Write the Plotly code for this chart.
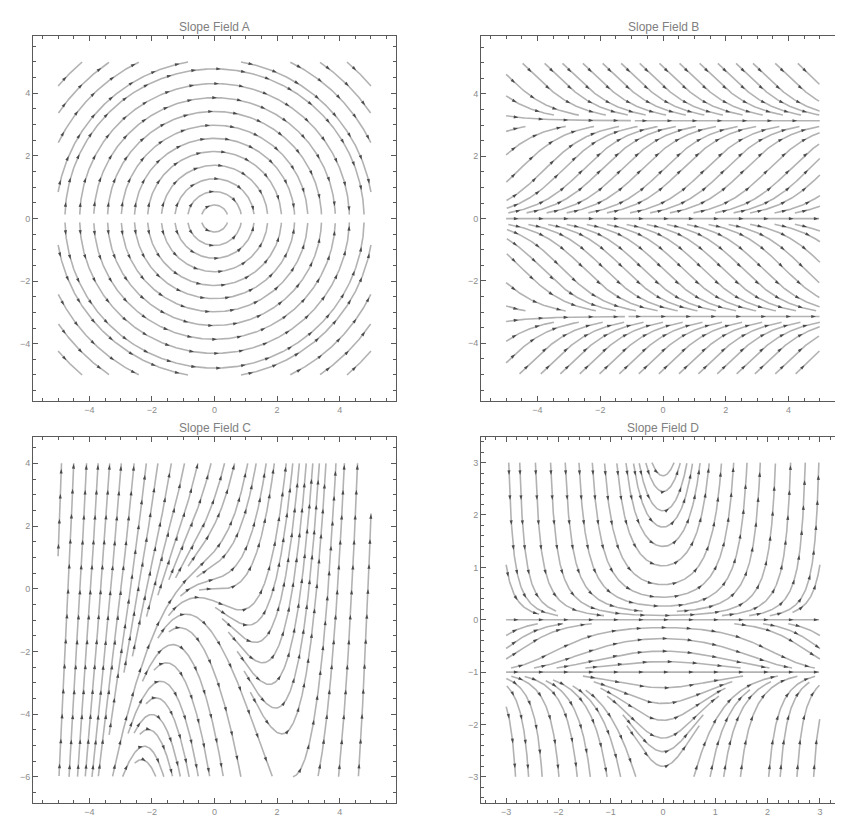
import math
import plotly.graph_objects as go

W, H = 843, 824

# ---------------- frame / axis data ----------------
TITLES = ["Slope Field A", "Slope Field B", "Slope Field C", "Slope Field D"]
X_RANGES = [(-5.8, 5.8), (-5.8, 5.8), (-5.8, 5.8), (-3.48, 3.48)]
Y_RANGES = [(-5.83, 5.83), (-5.85, 5.86), (-6.83, 4.84), (-3.5, 3.49)]
BOX_X = [(-5, 5), (-5, 5), (-5, 5), (-3, 3)]
BOX_Y = [(-5, 5), (-5, 5), (-6, 4), (-3, 3)]
X_DOMAINS = [(0.0297, 0.4603), (0.5611, 0.9929), (0.0297, 0.4603), (0.5611, 0.9929)]
Y_DOMAINS = [(0.5231, 0.9660), (0.5231, 0.9660), (0.0352, 0.4794), (0.0352, 0.4794)]
MAJOR_DTICK = [2, 2, 2, 1]
MINOR_DTICK = [0.5, 0.5, 0.5, 0.2]

# ---------------- slope fields (dy/dx) ----------------
def f_A(x, y):
    if abs(y) < 1e-9:
        y = 1e-9
    return -x / y

def f_B(x, y):
    return math.sin(y)

def f_C(x, y):
    return x * x + y

def f_D(x, y):
    return x * y * (y + 1.0)

# ---------------- streamline seeds ----------------
# A: radii of the circular streamlines
A_radii = [0.43, 0.86, 1.27, 1.70, 2.14, 2.56, 2.98, 3.42, 3.86, 4.31, 4.78,
           5.07, 5.55, 6.02, 6.55]
A_break_levels = [0.0]

# B: equilibrium lines (level, start x) and curve crossings
B_eq_y = [0.0, 3.1416, -3.1416]
B_eq_x0 = [-5.0, -0.9, -1.1]
B_mid_up_x = [-4.58, -3.78, -3.19, -2.55, -1.97, -1.33, -0.69, 0.0, 0.59, 1.33,
              1.97, 2.6, 3.35, 4.04, 4.63]            # crossing y = 1.571
B_top_up_x = [-4.2, -3.5, -2.93, -2.28, -1.65, -1.06, -0.47, 0.16, 0.8, 1.44,
              2.02, 2.6, 3.14, 3.85, 4.57]            # crossing y = 4.712
B_mid_dn_x = [-4.52, -3.88, -3.24, -2.55, -1.91, -1.28, -0.69, -0.05, 0.59, 1.22,
              1.86, 2.5, 3.14, 3.83, 4.47]            # crossing y = -1.571
B_bot_dn_x = [-4.3, -3.62, -3.0, -2.38, -1.75, -1.12, -0.5, 0.14, 0.78, 1.4,
              2.0, 2.62, 3.2, 3.85, 4.5]              # crossing y = -4.712
B_left_y = [4.63, 3.94, 3.3, 2.8, 2.05, -2.05, -2.8, -3.3, -3.94, -4.63]
B_right_y = [4.85, 1.4, 0.74, 0.4, -0.4, -0.74, -1.4, -4.85]
B_break_levels = [0.0, 3.1416, -3.1416]

# C: crossings of the top edge (y = 4), crests of the arches, right edge
C_top_x = [-4.89, -4.5, -4.09, -3.72, -3.35, -2.98, -2.57, -2.18, -1.81, -1.38,
           -0.96, -0.53, -0.11, 0.32, 0.64, 1.06, 1.33, 1.65, 1.91, 2.07,
           2.29, 2.5, 2.71, 2.93, 3.14, 3.35, 3.56, 3.88, 4.15, 4.57]
C_arch_x = [-0.9, -1.11, -1.33, -1.54, -1.72, -1.87, -2.0, -2.12, -2.24, -2.33]
C_arch_y = [-0.81, -1.24, -1.78, -2.36, -2.95, -3.48, -4.01, -4.49, -5.02, -5.45]
C_right_y = [2.4]

# D: equilibrium lines, vertex heights at x = 0, edge crossings
D_eq_y = [0.0, -1.0]
D_eq_x0 = [-3.0, -3.0]
D_up_vertex_y = [2.75, 2.45, 2.08, 1.77, 1.40, 1.03, 0.67, 0.43, 0.26]
D_mid_vertex_y = [-0.15, -0.36, -0.6, -0.8]
D_low_vertex_y = [-1.3, -1.6, -1.92, -2.26, -2.52, -2.8]
D_top_x = [-2.95, -2.74, -2.44, -2.15, -1.87, 1.86, 2.15, 2.44, 2.72, 2.98]
D_side_y = [1.05, -0.3, -0.55, -0.75]
D_bot_x = [-2.82, -2.57, -2.31, -1.99, -1.64, -1.39, -1.07, -0.81, -0.52,
           0.59, 0.9, 1.16, 1.48, 2.02, 2.24, 2.56, 2.88]

# ---------------- seed lists ----------------
seeds_A = []
for r in A_radii:
    if r <= 5:
        seeds_A += [(0.0, r, 'both'), (0.0, -r, 'both')]
    else:
        c = r * math.sqrt(0.5)
        seeds_A += [(-c, c, 'both'), (c, c, 'both'), (-c, -c, 'both'), (c, -c, 'both')]

seeds_B = [(x0, yv, 'fwd') for yv, x0 in zip(B_eq_y, B_eq_x0)]
seeds_B += [(x, 1.5708, 'both') for x in B_mid_up_x]
seeds_B += [(x, -1.5708, 'both') for x in B_mid_dn_x]
seeds_B += [(x, 4.7124, 'both') for x in B_top_up_x]
seeds_B += [(x, -4.7124, 'both') for x in B_bot_dn_x]
seeds_B += [(-5.0, yv, 'both') for yv in B_left_y]
seeds_B += [(5.0, yv, 'both') for yv in B_right_y]

seeds_C = [(x, 4.0, 'both') for x in C_top_x]
seeds_C += [(x, yv, 'both') for x, yv in zip(C_arch_x, C_arch_y)]
seeds_C += [(5.0, yv, 'both') for yv in C_right_y]

seeds_D = [(x0, yv, 'fwd') for yv, x0 in zip(D_eq_y, D_eq_x0)]
seeds_D += [(0.0, yv, 'both') for yv in D_up_vertex_y]
seeds_D += [(0.0, yv, 'both') for yv in D_mid_vertex_y]
seeds_D += [(0.0, yv, 'both') for yv in D_low_vertex_y]
seeds_D += [(x, 3.0, 'both') for x in D_top_x]
seeds_D += [(-3.0, yv, 'both') for yv in D_side_y] + [(3.0, yv, 'both') for yv in D_side_y]
seeds_D += [(x, -3.0, 'both') for x in D_bot_x]

PANEL_FIELDS = [f_A, f_B, f_C, f_D]
PANEL_SEEDS = [seeds_A, seeds_B, seeds_C, seeds_D]
PANEL_CUTS = [(A_break_levels, 0.12), (B_break_levels, 0.18), ([], 0.0), ([], 0.0)]
PANEL_DTEST = [4.0, 3.5, 5.5, 4.0]

LINE_COLOR = '#b2b2b2'
ARROW_COLOR = '#4a4a4a'
AXIS_COLOR = '#5a5a5a'
TEXT_COLOR = '#8c8c8c'
ARROW_SPACING = 25.0


def build_panel(f, seeds, box_x, box_y, sx, sy, d_test, cut_levels, cut,
                step=1.0, min_len=8.0, maxsteps=3000):
    grid = {}
    cell = d_test
    curves = []

    def to_px(x, y):
        return (x - box_x[0]) * sx, (y - box_y[0]) * sy

    def close(x, y):
        X, Y = to_px(x, y)
        cx, cy = int(X // cell), int(Y // cell)
        d2 = d_test * d_test
        for i in (cx - 1, cx, cx + 1):
            for j in (cy - 1, cy, cy + 1):
                for (PX, PY) in grid.get((i, j), ()):
                    if (PX - X) ** 2 + (PY - Y) ** 2 < d2:
                        return True
        return False

    def vel(x, y):
        s = f(x, y)
        n = math.hypot(sx, s * sy)
        return 1.0 / n, s / n

    def inside(x, y):
        return (box_x[0] - 1e-9 <= x <= box_x[1] + 1e-9 and
                box_y[0] - 1e-9 <= y <= box_y[1] + 1e-9)

    def run(xs, ys, direction):
        out = []
        x, y = xs, ys
        h = step * direction
        for _ in range(maxsteps):
            k1 = vel(x, y)
            k2 = vel(x + 0.5 * h * k1[0], y + 0.5 * h * k1[1])
            k3 = vel(x + 0.5 * h * k2[0], y + 0.5 * h * k2[1])
            k4 = vel(x + h * k3[0], y + h * k3[1])
            nx = x + h * (k1[0] + 2 * k2[0] + 2 * k3[0] + k4[0]) / 6.0
            ny = y + h * (k1[1] + 2 * k2[1] + 2 * k3[1] + k4[1]) / 6.0
            if not inside(nx, ny):
                break
            stop = False
            for L in cut_levels:
                if abs(ny - L) < cut and abs(ys - L) >= cut:
                    stop = True
            if stop or close(nx, ny):
                break
            out.append((nx, ny))
            x, y = nx, ny
        return out

    for (xs, ys, mode) in seeds:
        if not inside(xs, ys) or close(xs, ys):
            continue
        fwd = run(xs, ys, 1)
        back = run(xs, ys, -1) if mode == 'both' else []
        pts = back[::-1] + [(xs, ys)] + fwd
        L = 0.0
        for i in range(1, len(pts)):
            L += math.hypot((pts[i][0] - pts[i - 1][0]) * sx, (pts[i][1] - pts[i - 1][1]) * sy)
        if L < min_len:
            continue
        for (x, y) in pts:
            X, Y = to_px(x, y)
            grid.setdefault((int(X // cell), int(Y // cell)), []).append((X, Y))
        curves.append(pts)
    return curves


def arrows_for(curves, sx, sy, spacing):
    ax, ay, ang = [], [], []
    for pts in curves:
        s_next = spacing * 0.5
        s = 0.0
        for i in range(1, len(pts)):
            dX = (pts[i][0] - pts[i - 1][0]) * sx
            dY = (pts[i][1] - pts[i - 1][1]) * sy
            seg = math.hypot(dX, dY)
            if seg == 0:
                continue
            while s + seg >= s_next:
                t = (s_next - s) / seg
                ax.append(pts[i - 1][0] + t * (pts[i][0] - pts[i - 1][0]))
                ay.append(pts[i - 1][1] + t * (pts[i][1] - pts[i - 1][1]))
                ang.append(math.degrees(math.atan2(dX, dY)))
                s_next += spacing
            s += seg
    return ax, ay, ang


fig = go.Figure()
layout = dict(width=W, height=H, margin=dict(l=0, r=0, t=0, b=0),
              paper_bgcolor='white', plot_bgcolor='white', showlegend=False,
              font=dict(family='Liberation Sans, Arial, sans-serif'))
annotations = []

for k in range(4):
    xd, yd = X_DOMAINS[k], Y_DOMAINS[k]
    xr, yr = X_RANGES[k], Y_RANGES[k]
    sx = (xd[1] - xd[0]) * W / (xr[1] - xr[0])
    sy = (yd[1] - yd[0]) * H / (yr[1] - yr[0])
    levels, cut = PANEL_CUTS[k]
    curves = build_panel(PANEL_FIELDS[k], PANEL_SEEDS[k], BOX_X[k], BOX_Y[k],
                         sx, sy, PANEL_DTEST[k], levels, cut)
    lx, ly = [], []
    for pts in curves:
        lx += [p[0] for p in pts] + [None]
        ly += [p[1] for p in pts] + [None]
    xa = 'x' if k == 0 else 'x%d' % (k + 1)
    ya = 'y' if k == 0 else 'y%d' % (k + 1)
    fig.add_trace(go.Scatter(x=lx, y=ly, mode='lines', xaxis=xa, yaxis=ya,
                             line=dict(color=LINE_COLOR, width=1.6),
                             hoverinfo='skip'))
    ax_, ay_, ang_ = arrows_for(curves, sx, sy, ARROW_SPACING)
    fig.add_trace(go.Scatter(x=ax_, y=ay_, mode='markers', xaxis=xa, yaxis=ya,
                             marker=dict(symbol='arrow', size=5, angle=ang_,
                                         color=ARROW_COLOR, line=dict(width=0)),
                             hoverinfo='skip'))
    common = dict(showgrid=False, zeroline=False, showline=True,
                  linecolor=AXIS_COLOR, linewidth=1, mirror='allticks',
                  ticks='inside', ticklen=5, tickwidth=1, tickcolor=AXIS_COLOR,
                  tick0=0, dtick=MAJOR_DTICK[k],
                  minor=dict(ticks='inside', ticklen=3, tick0=0,
                             dtick=MINOR_DTICK[k], tickcolor=AXIS_COLOR, showgrid=False),
                  tickfont=dict(size=9, color=TEXT_COLOR), fixedrange=True)
    xkey = 'xaxis' if k == 0 else 'xaxis%d' % (k + 1)
    ykey = 'yaxis' if k == 0 else 'yaxis%d' % (k + 1)
    layout[xkey] = dict(domain=list(xd), range=list(xr), anchor=ya, **common)
    layout[ykey] = dict(domain=list(yd), range=list(yr), anchor=xa, **common)
    annotations.append(dict(text=TITLES[k], xref='paper', yref='paper',
                            x=(xd[0] + xd[1]) / 2, y=yd[1] + 9.0 / H,
                            xanchor='center', yanchor='middle', showarrow=False,
                            font=dict(size=12, color='#808080')))

layout['annotations'] = annotations
fig.update_layout(**layout)
fig.write_html("out.html")
